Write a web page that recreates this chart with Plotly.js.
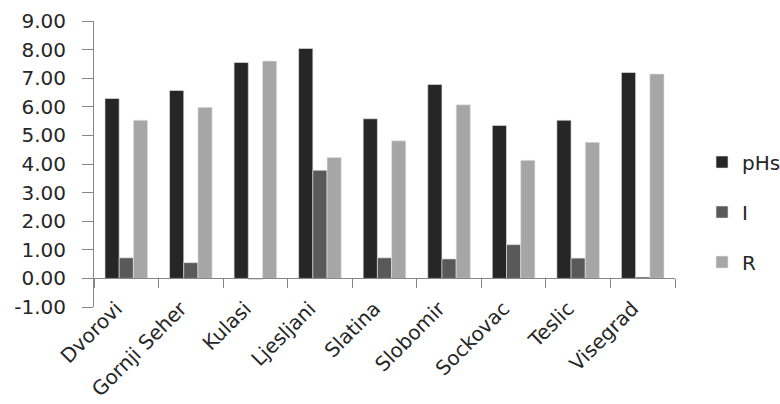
<!DOCTYPE html>
<html>
<head>
<meta charset="utf-8">
<script src="https://cdn.plot.ly/plotly-2.35.2.min.js"></script>
<style>html,body{margin:0;padding:0;background:#fff;}#chart{width:780px;height:404px;}</style>
</head>
<body>
<div id="chart"></div>
<script>
var categories = ["Dvorovi", "Gornji Seher", "Kulasi", "Ljesljani", "Slatina", "Slobomir", "Sockovac", "Teslic", "Visegrad"];
var pHs = [6.29, 6.57, 7.55, 8.04, 5.58, 6.78, 5.35, 5.53, 7.20];
var I   = [0.72, 0.55, -0.03, 3.78, 0.72, 0.68, 1.18, 0.71, 0.05];
var R   = [5.53, 5.98, 7.60, 4.23, 4.81, 6.07, 4.13, 4.76, 7.15];
var seriesNames = ["pHs", "I", "R"];
var yTicks = [-1, 0, 1, 2, 3, 4, 5, 6, 7, 8, 9];
var yTickText = yTicks.map(function (v) { return v.toFixed(2); });

var font = "DejaVu Sans";
var fs = 20;
var colors = ["#262626", "#595959", "#a6a6a6"];
var series = [pHs, I, R];
var traces = series.map(function (vals, i) {
  return {
    type: "bar", x: categories, y: vals, name: seriesNames[i],
    legendgroup: seriesNames[i],
    marker: {color: colors[i], line: {color: "#e8e8e8", width: 0.6}},
    hoverinfo: "x+y+name"
  };
});
// helper trace for the category axis line at y = 0
var bounds = categories.map(function (c, i) { return i - 0.5; }).concat([categories.length - 0.5]);
traces.push({type: "scatter", x: [bounds[0]], y: [null], xaxis: "x2", yaxis: "y",
  showlegend: false, hoverinfo: "skip", mode: "markers"});

var layout = {
  width: 780, height: 404,
  margin: {l: 94, r: 105, t: 21, b: 97, autoexpand: false},
  paper_bgcolor: "#ffffff", plot_bgcolor: "#ffffff",
  font: {family: font, size: fs, color: "#262626"},
  barmode: "group", bargap: 0.34, bargroupgap: 0,
  showlegend: true,
  legend: {x: 1.0465, y: 0.332, xanchor: "left", yanchor: "middle",
    traceorder: "grouped", tracegroupgap: 21,
    font: {family: font, size: fs, color: "#262626"}},
  xaxis: {type: "category", categoryarray: categories, tickangle: -45,
    showline: false, showgrid: false, zeroline: false, ticks: "",
    ticklabelshift: -10, ticklabelstandoff: -15,
    tickfont: {family: font, size: fs, color: "#262626"}},
  xaxis2: {overlaying: "x", anchor: "free", position: 0.1, type: "linear",
    range: [-0.5, categories.length - 0.5], tickvals: bounds, ticks: "outside", ticklen: 9,
    tickcolor: "#868686", showline: true, linecolor: "#868686", linewidth: 1,
    showticklabels: false, showgrid: false, zeroline: false},
  yaxis: {range: [-1, 9], tickvals: yTicks, ticktext: yTickText,
    ticks: "outside", ticklen: 11, tickcolor: "#868686",
    showline: true, linecolor: "#868686", linewidth: 1,
    showgrid: false, zeroline: false, ticklabelstandoff: 12,
    tickfont: {family: font, size: fs, color: "#262626"}}
};
Plotly.newPlot("chart", traces, layout, {displayModeBar: false, staticPlot: true});
</script>
</body>
</html>
